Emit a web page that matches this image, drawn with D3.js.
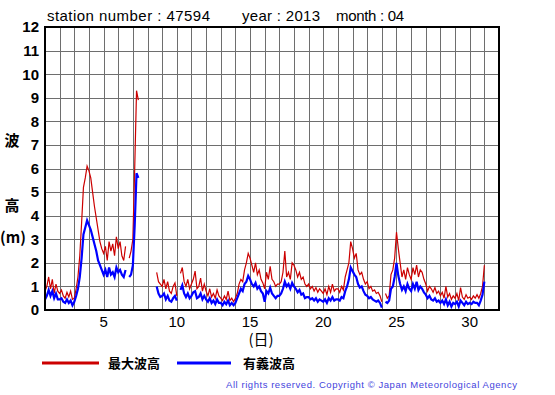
<!DOCTYPE html>
<html>
<head>
<meta charset="utf-8">
<script src="https://cdn.jsdelivr.net/npm/d3@7"></script>
<style>
  body { margin: 0; background: #fff; }
  svg { display: block; font-family: "Liberation Sans", Arial, sans-serif; }
  .jp { font-family: "Noto Sans CJK JP", sans-serif; font-weight: bold; }
</style>
</head>
<body>
<svg id="chart" width="555" height="395"></svg>
<script>
// 3-hourly values, 8 per day starting at day 1 00h (null = missing)
var maxWave = [
  0.8, 1.0, 1.4, 0.9, 1.3, 0.7, 1.1, 0.8,       // 1
  0.7, 0.85, 0.6, 0.5, 0.75, 0.55, 0.8, 0.45,   // 2
  0.5, 0.9, 1.4, 2.3, 3.7, 5.2, 5.6, 6.1,       // 3
  5.9, 5.6, 5.0, 4.4, 3.9, 3.4, 2.9, 2.6,       // 4
  2.4, 2.7, 2.1, 2.9, 2.5, 2.8, 2.3, 3.1,       // 5
  2.6, 2.9, 2.3, 2.1, 2.7, null, 2.2, 2.5,      // 6
  3.0, 6.0, 9.3, 8.9, null, null, null, null,   // 7
  null, null, null, null, null, 1.6, 1.2, 1.1,  // 8
  1.0, 1.3, 0.9, 1.2, 0.8, 0.7, 1.0, 1.15,      // 9
  0.6, null, 1.55, 1.8, 1.2, 1.0, 1.3, 0.9,     // 10
  1.1, 1.3, 1.65, 0.9, 1.0, 1.35, 0.8, 1.1,     // 11
  0.8, 0.6, 0.9, 0.55, 0.7, 0.5, 0.85, 0.6,     // 12
  0.5, 0.4, 0.6, 0.45, 0.8, 0.4, 0.5, 0.35,     // 13
  0.5, 0.7, 1.1, 1.3, 1.2, 1.7, 2.0, 2.4,       // 14
  2.2, 1.9, 1.6, 2.0, 1.5, 1.7, 1.3, 1.15,      // 15
  0.9, 1.6, 1.3, 1.85, 1.3, 1.2, 1.0, 1.1,      // 16
  1.1, 1.2, 1.6, 2.5, 1.4, 1.6, 1.3, 2.0,       // 17
  1.9, 1.7, 1.4, 1.6, 1.3, 1.4, 1.1, 1.0,       // 18
  1.1, 0.9, 1.0, 0.8, 0.95, 0.75, 0.9, 0.8,     // 19
  0.7, 0.9, 0.65, 1.0, 0.75, 1.1, 0.8, 0.9,     // 20
  0.9, 0.75, 1.0, 0.85, 1.4, 1.7, 2.0, 2.9,     // 21
  2.6, 2.2, 2.4, 1.7, 1.5, 1.6, 1.3, 1.1,       // 22
  1.2, 0.9, 1.0, 0.8, 0.85, 0.7, 0.75, 0.6,     // 23
  0.35, null, 0.7, 0.5, 0.6, 1.5, 1.7, 2.2,     // 24
  3.3, 2.6, 2.0, 1.4, 1.7, 1.3, 1.8, 1.5,       // 25
  1.3, 1.8, 1.5, 1.9, 1.4, 1.7, 1.6, 1.3,       // 26
  1.1, 0.8, 1.0, 0.9, 0.75, 0.95, 0.7, 0.8,     // 27
  0.6, 0.75, 0.5, 1.0, 0.55, 0.7, 0.45, 0.6,    // 28
  0.5, 0.7, 0.4, 0.95, 0.55, 0.45, 0.65, 0.5,   // 29
  0.55, 0.45, 0.6, 0.5, 0.65, 0.5, 0.7, 1.0,    // 30
  1.9                                           // 31
];

var sigWave = [
  0.45, 0.6, 0.85, 0.6, 0.8, 0.5, 0.7, 0.45,   // 1
  0.45, 0.5, 0.35, 0.3, 0.45, 0.3, 0.4, 0.2,   // 2
  0.35, 0.6, 0.9, 1.4, 2.2, 3.2, 3.5, 3.8,     // 3
  3.6, 3.4, 3.1, 2.8, 2.5, 2.1, 1.9, 1.7,      // 4
  1.5, 1.7, 1.4, 1.8, 1.5, 1.6, 1.4, 1.8,      // 5
  1.6, 1.7, 1.5, 1.4, 1.7, null, 1.4, 1.5,     // 6
  1.9, 3.6, 5.8, 5.6, null, null, null, null,  // 7
  null, null, null, null, null, 1.0, 0.7, 0.55, // 8
  0.6, 0.7, 0.45, 0.6, 0.4, 0.35, 0.5, 0.6,    // 9
  0.4, null, 0.85, 1.05, 0.7, 0.55, 0.7, 0.5,  // 10
  0.6, 0.75, 0.8, 0.5, 0.55, 0.7, 0.45, 0.6,   // 11
  0.45, 0.35, 0.5, 0.3, 0.4, 0.25, 0.45, 0.3,  // 12
  0.3, 0.2, 0.35, 0.25, 0.4, 0.2, 0.3, 0.2,    // 13
  0.3, 0.5, 0.7, 0.9, 0.8, 1.1, 1.2, 1.45,     // 14
  1.3, 1.1, 1.0, 1.15, 0.9, 1.0, 0.8, 0.7,     // 15
  0.35, 0.8, 0.7, 0.95, 0.7, 0.6, 0.5, 0.6,    // 16
  0.6, 0.7, 0.9, 1.2, 1.0, 1.1, 0.9, 1.15,     // 17
  1.0, 0.9, 0.75, 0.85, 0.65, 0.7, 0.5, 0.55,  // 18
  0.55, 0.45, 0.5, 0.4, 0.5, 0.35, 0.45, 0.4,  // 19
  0.35, 0.45, 0.3, 0.5, 0.4, 0.55, 0.4, 0.45,  // 20
  0.45, 0.4, 0.55, 0.5, 0.8, 1.0, 1.3, 1.8,    // 21
  1.65, 1.5, 1.4, 1.1, 0.95, 1.0, 0.8, 0.65,   // 22
  0.6, 0.5, 0.55, 0.45, 0.4, 0.35, 0.4, 0.3,   // 23
  0.1, null, 0.35, 0.3, 0.4, 0.9, 1.0, 1.4,    // 24
  2.0, 1.45, 1.1, 0.85, 1.0, 0.8, 1.1, 0.9,    // 25
  0.8, 1.1, 0.9, 1.2, 0.85, 1.0, 0.9, 0.75,    // 26
  0.65, 0.5, 0.6, 0.45, 0.4, 0.5, 0.35, 0.4,   // 27
  0.3, 0.4, 0.25, 0.45, 0.2, 0.35, 0.15, 0.3,  // 28
  0.25, 0.35, 0.15, 0.4, 0.3, 0.2, 0.35, 0.25, // 29
  0.3, 0.25, 0.35, 0.3, 0.3, 0.2, 0.4, 0.65,   // 30
  1.2                                          // 31
];

var xTicks = [5, 10, 15, 20, 25, 30];
var yTicks = [0, 1, 2, 3, 4, 5, 6, 7, 8, 9, 10, 11, 12];
var seriesNames = ["最大波高", "有義波高"];
var seriesColors = ["#cc0000", "#0000ff"];

var plotLeft = 45, plotTop = 27, plotRight = 499, plotBottom = 310;

var svg = d3.select("#chart");

var x = d3.scaleLinear().domain([1, 32]).range([plotLeft, plotRight]);
var y = d3.scaleLinear().domain([0, 12]).range([plotBottom, plotTop]);

// title
svg.append("text").attr("x", 47).attr("y", 21).attr("font-size", 15)
  .attr("textLength", 163).attr("lengthAdjust", "spacing").text("station number : 47594");
svg.append("text").attr("x", 242).attr("y", 21).attr("font-size", 15)
  .attr("textLength", 78).attr("lengthAdjust", "spacing").text("year : 2013");
svg.append("text").attr("x", 336).attr("y", 21).attr("font-size", 15)
  .attr("textLength", 68).attr("lengthAdjust", "spacing").text("month : 04");

// grid
var grid = svg.append("g").attr("stroke", "#6e6e6e").attr("stroke-width", 1);
grid.selectAll("line.v")
  .data(d3.range(2, 32))
  .enter()
  .append("line")
  .attr("class", "v")
  .attr("x1", function(d) { return Math.round(x(d)) + 0.5; })
  .attr("x2", function(d) { return Math.round(x(d)) + 0.5; })
  .attr("y1", plotTop)
  .attr("y2", plotBottom);
grid.selectAll("line.h")
  .data(yTicks.slice(1, -1))
  .enter()
  .append("line")
  .attr("class", "h")
  .attr("y1", function(d) { return Math.round(y(d)) + 0.5; })
  .attr("y2", function(d) { return Math.round(y(d)) + 0.5; })
  .attr("x1", plotLeft)
  .attr("x2", plotRight);

// series
var line = d3.line()
  .defined(function(d) { return d.v != null; })
  .x(function(d) { return x(d.t); })
  .y(function(d) { return y(d.v); });

function toPoints(arr) {
  return arr.map(function(v, i) { return { t: 1 + i / 8, v: v }; });
}

svg.append("path")
  .datum(toPoints(maxWave))
  .attr("fill", "none")
  .attr("stroke", seriesColors[0])
  .attr("stroke-width", 1.2)
  .attr("d", line);

svg.append("path")
  .datum(toPoints(sigWave))
  .attr("fill", "none")
  .attr("stroke", seriesColors[1])
  .attr("stroke-width", 2.2)
  .attr("d", line);

// frame
svg.append("rect")
  .attr("x", plotLeft).attr("y", plotTop)
  .attr("width", plotRight - plotLeft).attr("height", plotBottom - plotTop)
  .attr("fill", "none").attr("stroke", "#000").attr("stroke-width", 2);

// y tick labels
svg.append("g")
  .selectAll("text")
  .data(yTicks)
  .enter()
  .append("text")
  .attr("x", 39)
  .attr("y", function(d) { return y(d); })
  .attr("dy", "0.36em")
  .attr("text-anchor", "end")
  .attr("font-size", 15)
  .attr("font-weight", "bold")
  .text(function(d) { return d; });

// x tick labels
svg.append("g")
  .selectAll("text")
  .data(xTicks)
  .enter()
  .append("text")
  .attr("x", function(d) { return x(d); })
  .attr("y", 327)
  .attr("text-anchor", "middle")
  .attr("font-size", 15)
  .text(function(d) { return d; });

// axis titles
svg.append("text").attr("class", "jp").attr("x", 12).attr("y", 146).attr("text-anchor", "middle").attr("font-size", 15).text("波");
svg.append("text").attr("class", "jp").attr("x", 12).attr("y", 211).attr("text-anchor", "middle").attr("font-size", 15).text("高");
svg.append("text").attr("class", "jp").attr("x", 13).attr("y", 243).attr("text-anchor", "middle").attr("font-size", 15).text("(m)");
svg.append("text").attr("x", 261).attr("y", 345).attr("text-anchor", "middle").attr("font-size", 15)
  .style("font-family", "'Noto Sans CJK JP', sans-serif").text("(日)");

// legend
var legendX = [[42, 99, 108], [177, 231, 243]];
seriesNames.forEach(function(name, i) {
  svg.append("line")
    .attr("x1", legendX[i][0]).attr("x2", legendX[i][1])
    .attr("y1", 363).attr("y2", 363)
    .attr("stroke", seriesColors[i]).attr("stroke-width", 3);
  svg.append("text")
    .attr("class", "jp")
    .attr("x", legendX[i][2]).attr("y", 368)
    .attr("font-size", 13)
    .text(name);
});

// copyright
svg.append("text")
  .attr("x", 226).attr("y", 388)
  .attr("font-size", 9.5)
  .attr("fill", "#4444dd")
  .attr("textLength", 291)
  .attr("lengthAdjust", "spacing")
  .text("All rights reserved. Copyright © Japan Meteorological Agency");
</script>
</body>
</html>
